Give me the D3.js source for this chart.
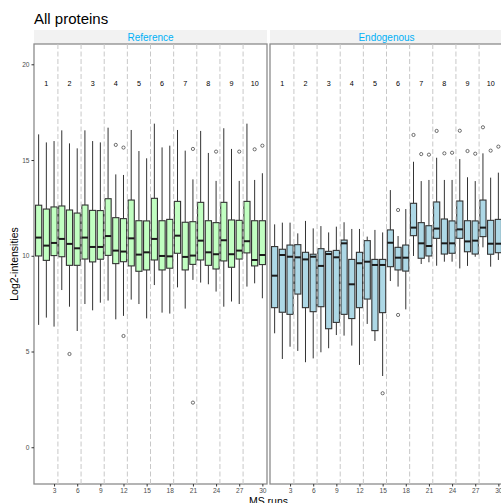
<!DOCTYPE html>
<html>
<head>
<meta charset="utf-8">
<script src="https://cdn.jsdelivr.net/npm/d3@7"></script>
<style>
  body { margin: 0; background: #fff; }
  text { font-family: "Liberation Sans", Arial, Helvetica, sans-serif; }
</style>
</head>
<body>
<div id="chart"></div>
<script>
// runs per facet, groups of 3 runs
const runs = d3.range(1, 31)
const groupLabels = ['1','2','3','4','5','6','7','8','9','10']
const facets = ['Reference', 'Endogenous']
const yTicks = [0, 5, 10, 15, 20]
const xTicks = [3, 6, 9, 12, 15, 18, 21, 24, 27, 30]

// Reference
const refHigh = [16.34,15.92,15.99,16.55,15.87,15.61,16.55,15.99,15.92,16.69,14.25,14.22,16.57,15.47,15.09,16.9,15.66,15.75,16.57,15.49,13.99,16.52,15.37,13.91,16.66,15.58,13.91,16.9,13.96,14.31]
const refQ3 = [12.64,12.44,12.55,12.60,12.39,12.23,12.65,12.37,12.36,12.98,11.99,11.94,12.91,11.83,11.82,13.00,11.83,11.90,12.84,11.75,11.78,12.79,11.83,11.73,12.79,11.87,11.85,12.84,11.83,11.83]
const refMed = [10.95,10.53,10.67,10.88,10.62,10.39,10.95,10.46,10.46,11.03,10.27,10.22,10.91,10.06,10.18,10.88,9.99,9.97,11.05,9.94,10.01,10.79,10.18,10.08,10.81,10.08,10.27,10.76,9.78,10.04]
const refQ1 = [9.99,9.76,10.01,9.95,9.50,9.50,9.83,9.68,9.82,10.02,9.59,9.69,9.47,9.19,9.26,9.78,9.26,9.35,10.13,9.26,9.55,9.78,9.50,9.31,9.73,9.40,9.83,10.15,9.47,9.54]
const refLow = [6.39,6.77,6.30,8.21,7.34,6.07,7.48,7.15,7.55,7.66,6.68,6.86,7.71,7.48,6.73,8.47,7.03,6.98,8.35,7.24,8.74,8.60,8.51,8.13,7.34,7.61,7.48,8.39,8.56,7.78]
const refOutliers = [[5,4.87],[11,15.79],[12,15.65],[12,5.81],[21,15.58],[21,2.33],[24,15.44],[27,15.44],[29,15.56],[30,15.75]]

// Endogenous
const endoHigh = [11.64,11.73,11.73,11.17,11.82,11.43,11.55,11.22,11.52,11.75,11.40,11.40,11.00,11.35,11.22,13.43,11.03,12.44,14.91,13.90,13.96,15.12,13.96,13.96,15.05,14.10,13.90,15.35,14.08,14.34]
const endoQ3 = [10.48,10.34,10.56,10.58,10.18,10.08,10.37,10.23,10.28,10.82,9.81,10.18,10.79,9.81,9.81,11.35,10.44,10.56,12.74,11.73,11.57,12.81,11.92,11.82,12.86,11.83,11.82,12.91,11.85,11.90]
const endoMed = [8.96,10.04,9.95,9.92,9.81,9.95,9.47,10.09,9.92,10.65,8.51,9.61,9.69,9.52,9.52,10.68,9.90,9.90,11.47,10.65,10.51,11.42,10.65,10.65,11.38,10.75,10.79,11.47,10.63,10.63]
const endoQ1 = [7.29,7.05,6.94,8.00,7.29,7.08,7.34,6.19,6.52,6.94,6.72,7.29,7.74,6.09,7.03,9.43,9.26,9.20,11.05,9.87,9.99,10.91,10.09,10.13,10.91,10.21,10.09,11.00,10.08,10.16]
const endoLow = [5.95,4.61,5.25,5.03,4.44,4.64,4.96,5.17,5.86,5.83,5.31,4.30,6.44,5.55,3.72,8.68,8.39,7.20,9.99,9.57,9.66,9.48,9.69,9.69,9.34,9.47,9.95,10.44,9.43,9.78]
const endoOutliers = [[15,2.82],[17,12.39],[17,6.91],[19,16.31],[20,15.31],[21,15.28],[22,16.52],[23,15.35],[24,15.38],[25,16.53],[26,15.47],[27,15.33],[28,16.71],[29,15.49],[30,15.70]]

const W = 501, H = 503
const panelTop = 44, panelBottom = 484, panelW = 233
const panelLefts = [34, 270]
const fills = ['#C1FFC1', '#ADD8E6']

const svg = d3.select('#chart').append('svg')
    .attr('width', W).attr('height', H)

const y = d3.scaleLinear().domain([-1.92, 21.06]).range([panelBottom, panelTop])

function boxes(high, q3, med, q1, low) {
    return runs.map((r, i) => ({run: r, high: high[i], q3: q3[i], med: med[i], q1: q1[i], low: low[i]}))
}
const panels = [
    {name: facets[0], data: boxes(refHigh, refQ3, refMed, refQ1, refLow), outliers: refOutliers},
    {name: facets[1], data: boxes(endoHigh, endoQ3, endoMed, endoQ1, endoLow), outliers: endoOutliers}
]

// title
svg.append('text').attr('x', 34).attr('y', 24)
    .attr('font-size', 15).attr('fill', '#000').text('All proteins')

panels.forEach((p, pi) => {
    const x0 = panelLefts[pi]
    const x = d3.scaleLinear().domain([0.4, 30.6]).range([x0, x0 + panelW])
    const g = svg.append('g')

    // strip
    g.append('rect').attr('x', x0).attr('y', 30).attr('width', panelW).attr('height', 14)
        .attr('fill', '#F2F2F2')
    g.append('text').attr('x', x0 + panelW / 2).attr('y', 40.8)
        .attr('text-anchor', 'middle').attr('font-size', 10).attr('fill', '#00B0F6')
        .text(p.name)

    // panel border
    g.append('rect').attr('x', x0).attr('y', panelTop)
        .attr('width', panelW).attr('height', panelBottom - panelTop)
        .attr('fill', '#fff').attr('stroke', '#8c8c8c').attr('stroke-width', 1.3)

    const bw = 0.8 * (x(2) - x(1))

    const b = g.selectAll('.box').data(p.data).enter().append('g').attr('class', 'box')
    b.append('line')
        .attr('x1', d => x(d.run)).attr('x2', d => x(d.run))
        .attr('y1', d => y(d.high)).attr('y2', d => y(d.q3))
        .attr('stroke', '#333').attr('stroke-width', 1)
    b.append('line')
        .attr('x1', d => x(d.run)).attr('x2', d => x(d.run))
        .attr('y1', d => y(d.q1)).attr('y2', d => y(d.low))
        .attr('stroke', '#333').attr('stroke-width', 1)
    b.append('rect')
        .attr('x', d => x(d.run) - bw / 2).attr('width', bw)
        .attr('y', d => y(d.q3)).attr('height', d => y(d.q1) - y(d.q3))
        .attr('fill', fills[pi]).attr('stroke', '#333').attr('stroke-width', 1.1)
    b.append('line')
        .attr('x1', d => x(d.run) - bw / 2).attr('x2', d => x(d.run) + bw / 2)
        .attr('y1', d => y(d.med)).attr('y2', d => y(d.med))
        .attr('stroke', '#1a1a1a').attr('stroke-width', 2)

    g.selectAll('.outlier').data(p.outliers).enter().append('circle')
        .attr('cx', d => x(d[0])).attr('cy', d => y(d[1])).attr('r', 1.6)
        .attr('fill', 'none').attr('stroke', '#333').attr('stroke-width', 0.7)

    // group separators
    g.selectAll('.sep').data(d3.range(3.5, 30, 3)).enter().append('line')
        .attr('x1', d => x(d)).attr('x2', d => x(d))
        .attr('y1', panelTop).attr('y2', panelBottom)
        .attr('stroke', '#C8C8C8').attr('stroke-width', 1).attr('stroke-dasharray', '5,2.5')

    // group labels
    g.selectAll('.glab').data(groupLabels).enter().append('text')
        .attr('x', (d, i) => x(i * 3 + 2)).attr('y', y(19) + 2.8)
        .attr('text-anchor', 'middle').attr('font-size', 7.2).attr('fill', '#000')
        .text(d => d)

    // x axis
    const xa = g.append('g').attr('transform', `translate(0,${panelBottom})`)
        .call(d3.axisBottom(x).tickValues(xTicks).tickSize(2.5).tickPadding(2).tickFormat(d3.format('d')))
    xa.select('.domain').remove()
    xa.selectAll('line').attr('stroke', '#333')
    xa.selectAll('text').attr('font-size', 6.6).attr('fill', '#4D4D4D')
        .attr('font-family', '"Liberation Sans", Arial, sans-serif')

    if (pi === 0) {
        const ya = g.append('g').attr('transform', `translate(${x0},0)`)
            .call(d3.axisLeft(y).tickValues(yTicks).tickSize(2.5).tickPadding(2))
        ya.select('.domain').remove()
        ya.selectAll('line').attr('stroke', '#333')
        ya.selectAll('text').attr('font-size', 6.6).attr('fill', '#4D4D4D')
            .attr('font-family', '"Liberation Sans", Arial, sans-serif')
    }
})

// axis titles (cut by the bottom edge, as in the reference)
svg.append('text').attr('x', (34 + 270 + panelW) / 2).attr('y', 505)
    .attr('text-anchor', 'middle').attr('font-size', 10.5).attr('fill', '#000').text('MS runs')
svg.append('text')
    .attr('transform', `translate(18,${(panelTop + panelBottom) / 2}) rotate(-90)`)
    .attr('text-anchor', 'middle').attr('font-size', 10.5).attr('fill', '#000').text('Log2-intensities')
</script>
</body>
</html>
